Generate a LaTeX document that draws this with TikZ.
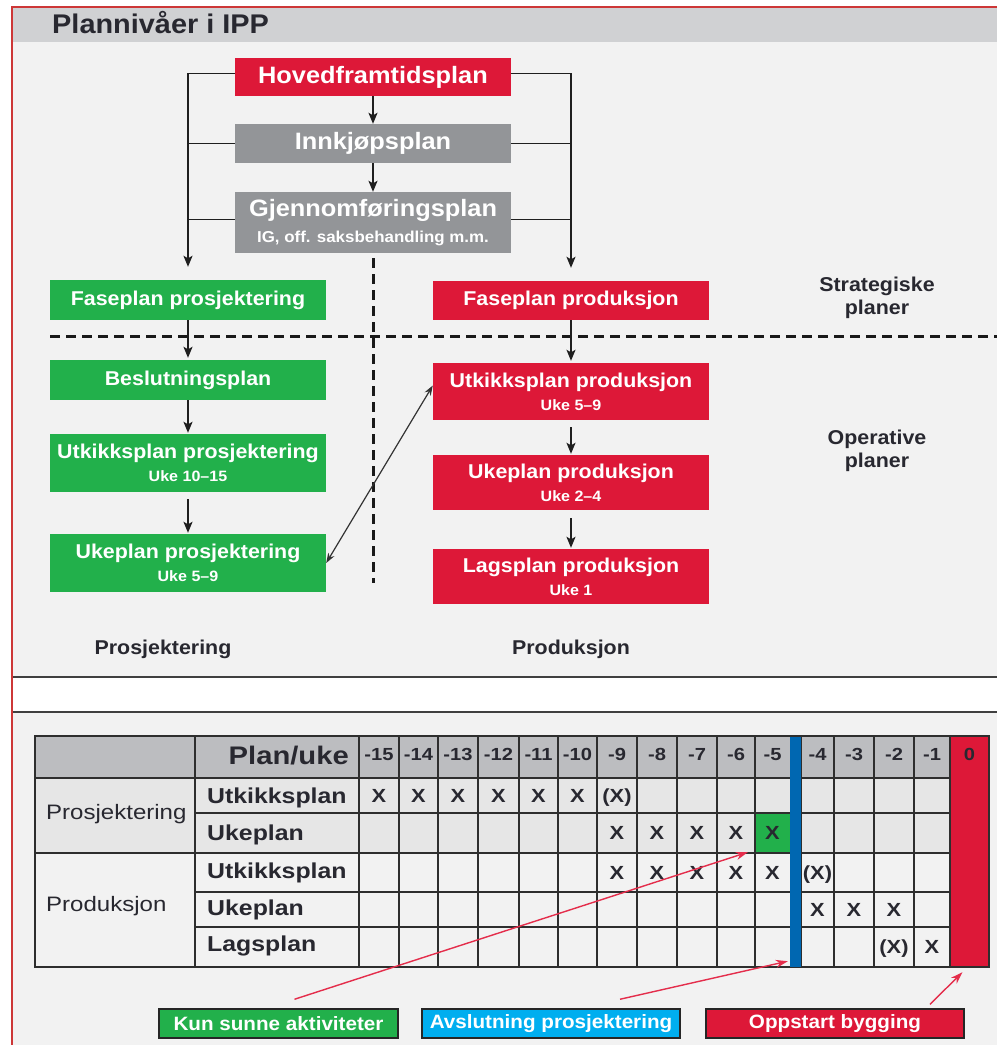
\documentclass[tikz,border=0pt]{standalone}
\usepackage{fontspec}
\setmainfont{Liberation Sans}[FakeStretch=1.07]
\newfontfamily\tabfont{Liberation Sans}[FakeStretch=1.15]
\usetikzlibrary{arrows.meta,calc}

\definecolor{ippred}{RGB}{221,24,56}
\definecolor{ippgreen}{RGB}{34,176,75}
\definecolor{ippgray}{RGB}{147,149,152}
\definecolor{barGray}{RGB}{208,209,211}
\definecolor{paper}{RGB}{242,242,242}
\definecolor{headGray}{RGB}{188,189,192}
\definecolor{rowGray}{RGB}{230,230,230}
\definecolor{ippblue}{RGB}{0,103,177}
\definecolor{ippcyan}{RGB}{0,174,239}
\definecolor{txtdark}{RGB}{40,40,48}
\definecolor{frameRed}{RGB}{205,55,55}
\definecolor{ptred}{RGB}{228,45,75}

\newcommand\ukeline[1]{{\fontsize{15}{17}\selectfont #1}}

\begin{document}
\begin{tikzpicture}[x=1pt,y=-1pt,
  plan/.style={rectangle, inner sep=0pt, minimum width=276pt, text=white, align=center,
    font=\bfseries\fontsize{20}{22}\selectfont},
  bigplan/.style={plan, font=\bfseries\fontsize{23.7}{26}\selectfont},
  flow/.style={draw=black!88, line width=1.6pt, -{Stealth[length=11pt,width=9pt,inset=2.5pt]}},
  bus/.style={draw=black!88, line width=1.6pt},
  divider/.style={draw=black!90, line width=3pt, dash pattern=on 10pt off 6pt},
  link/.style={draw=black!80, line width=1.2pt,
    {Stealth[length=10pt,width=7pt]}-{Stealth[length=10pt,width=7pt]}},
  note/.style={text=txtdark, inner sep=0pt, align=center, font=\bfseries\fontsize{20}{23}\selectfont},
  rule/.style={draw=black!75, line width=1.6pt},
  grid/.style={draw=black!82, line width=1.8pt},
  wk/.style={text=txtdark, inner sep=0pt, font=\tabfont\bfseries\fontsize{17.5}{20}\selectfont},
  mk/.style={wk, font=\tabfont\bfseries\fontsize{19}{21}\selectfont},
  rowlab/.style={text=txtdark, inner sep=0pt, anchor=base west,
    font=\tabfont\bfseries\fontsize{21.6}{24}\selectfont},
  grplab/.style={text=txtdark, inner sep=0pt, anchor=base west,
    font=\tabfont\fontsize{20.9}{24}\selectfont},
  legend/.style={draw=black!85, line width=1.5pt, minimum width=258pt, minimum height=29pt,
    inner sep=0pt, text=white, font=\bfseries\fontsize{19.3}{21}\selectfont},
  pointer/.style={draw=ptred, line width=1.4pt, -{Stealth[length=12pt,width=8pt]}}
]
\useasboundingbox (0,0) rectangle (997,1045);

% page, panels and frame
\fill[white] (0,0) rectangle (997,1045);
\fill[paper] (12,42) rectangle (997,677);
\fill[paper] (12,712) rectangle (997,1045);
\fill[barGray] (12,7) rectangle (997,42);
\draw[rule] (12,677) -- (997,677);
\draw[rule] (12,712) -- (997,712);
\draw[frameRed, line width=1.5pt] (997,7) -- (12,7) -- (12,1045);
\node[anchor=base west, inner sep=0pt, text=txtdark,
  font=\bfseries\fontsize{27}{30}\selectfont] (title) at (52,33) {Plannivåer i IPP};

% plan hierarchy
\node[bigplan, fill=ippred, minimum height=38pt] (hfp) at (373,77) {Hovedframtidsplan};
\node[bigplan, fill=ippgray, minimum height=39pt] (innk) at (373,143.5) {Innkjøpsplan};
\node[bigplan, fill=ippgray, minimum height=61pt] (gjf) at (373,222.5)
  {Gjennomføringsplan\\{\fontsize{15.8}{17}\selectfont IG, off. saksbehandling m.m.}};

\node[plan, fill=ippgreen, minimum height=40pt] (fpp) at (188,300) {Faseplan prosjektering};
\node[plan, fill=ippred, minimum height=39pt] (fpr) at (571,300.5) {Faseplan produksjon};
\node[plan, fill=ippgreen, minimum height=40pt] (bes) at (188,380) {Beslutningsplan};
\node[plan, fill=ippgreen, minimum height=58pt] (ukp) at (188,463)
  {Utkikksplan prosjektering\\[1pt]\ukeline{Uke 10–15}};
\node[plan, fill=ippgreen, minimum height=58pt] (wkp) at (188,563)
  {Ukeplan prosjektering\\[1pt]\ukeline{Uke 5–9}};
\node[plan, fill=ippred, minimum height=57pt] (ukr) at (571,391.5)
  {Utkikksplan produksjon\\[1pt]\ukeline{Uke 5–9}};
\node[plan, fill=ippred, minimum height=55pt] (wkr) at (571,482.5)
  {Ukeplan produksjon\\[1pt]\ukeline{Uke 2–4}};
\node[plan, fill=ippred, minimum height=55pt] (lgr) at (571,576.5)
  {Lagsplan produksjon\\[1pt]\ukeline{Uke 1}};

% dividers between strategic/operative and design/production
\coordinate (divL) at (50,336);
\coordinate (divR) at (997,336);
\coordinate (divB) at (373,583);
\draw[divider] (divL) -- (divR);
\draw[divider] ([yshift=-5pt]gjf.south) -- (divB);

% connectors
\draw[flow] (hfp) -- (innk);
\draw[flow] (innk) -- (gjf);
\draw[flow, shorten >=13pt] ([yshift=3.5pt]hfp.west) -| (fpp.north);
\draw[flow, shorten >=13pt] ([yshift=3.5pt]hfp.east) -| (fpr.north);
\draw[bus] (innk.west) -- (innk.west -| fpp.north);
\draw[bus] (innk.east) -- (innk.east -| fpr.north);
\draw[bus] ([yshift=3pt]gjf.west) -- ([yshift=3pt]gjf.west -| fpp.north);
\draw[bus] ([yshift=3pt]gjf.east) -- ([yshift=3pt]gjf.east -| fpr.north);
\draw[flow, shorten >=2pt] (fpp) -- (bes);
\draw[flow, shorten >=1pt] (bes) -- (ukp);
\draw[flow, shorten <=7pt, shorten >=1pt] (ukp) -- (wkp);
\draw[flow, shorten >=2pt] (fpr) -- (ukr);
\draw[flow, shorten <=7pt, shorten >=1pt] (ukr) -- (wkr);
\draw[flow, shorten <=8pt, shorten >=1pt] (wkr) -- (lgr);
\draw[link] (wkp.east) -- ([yshift=6pt]ukr.west);

% side and column notes
\node[note] (strat) at (877,298) {Strategiske\\planer};
\node[note] (oper) at (877,451) {Operative\\planer};
\node[note] (colP) at (163,649) {Prosjektering};
\node[note] (colR) at (571,649) {Produksjon};

% schedule table: fills
\fill[headGray] (35,736) rectangle (950,778);
\fill[rowGray] (35,778) rectangle (950,853);
\node[fill=ippred, inner sep=0pt, minimum width=39pt, minimum height=231pt] (zero) at (969.5,851.5) {};
\node[fill=ippgreen, inner sep=0pt, minimum width=35pt, minimum height=40pt] (gcell) at (772.5,833) {};

% schedule table: grid
\foreach \y in {778,853} \draw[grid] (35,\y) -- (950,\y);
\foreach \y in {813,892,927} \draw[grid] (195,\y) -- (950,\y);
\foreach \x in {195,359,399,438,478,519,558,597,637,677,717,755,801,834,874,914,950}
  \draw[grid] (\x,736) -- (\x,967);
\draw[grid] (35,736) rectangle (989,967);
\node[fill=ippblue, inner sep=0pt, minimum width=11pt, minimum height=230pt] (blue) at (795.5,852) {};

% schedule table: headings
\node[text=txtdark, inner sep=0pt, anchor=base east,
  font=\tabfont\bfseries\fontsize{25.4}{28}\selectfont] (planuke) at (349,764) {Plan/uke};
\foreach \lab/\xl/\xr [count=\i] in {-15/359/399,-14/399/438,-13/438/478,-12/478/519,
    -11/519/558,-10/558/597,-9/597/637,-8/637/677,-7/677/717,-6/717/755,-5/755/790,
    -4/801/834,-3/834/874,-2/874/914,-1/914/950,0/950/989}
{
  \coordinate (col\i) at ({(\xl+\xr)/2},0);
  \node[wk, anchor=base] (wk\i) at ({(\xl+\xr)/2},760) {\lab};
}

% row baselines
\coordinate (row1) at (0,802);
\coordinate (row2) at (0,839.5);
\coordinate (row3) at (0,879);
\coordinate (row4) at (0,916);
\coordinate (row5) at (0,953.5);

\node[grplab] (gP) at (46,819) {Prosjektering};
\node[grplab] (gR) at (46,911) {Produksjon};
\node[rowlab] (r1) at (207,803) {Utkikksplan};
\node[rowlab] (r2) at (207,840) {Ukeplan};
\node[rowlab] (r3) at (207,878) {Utkikksplan};
\node[rowlab] (r4) at (207,915) {Ukeplan};
\node[rowlab] (r5) at (207,951) {Lagsplan};

% schedule marks
\foreach \c/\r/\m in {1/1/X,2/1/X,3/1/X,4/1/X,5/1/X,6/1/X,7/1/{(X)},
    7/2/X,8/2/X,9/2/X,10/2/X,11/2/X,
    7/3/X,8/3/X,9/3/X,10/3/X,11/3/X,12/3/{(X)},
    12/4/X,13/4/X,14/4/X,
    14/5/{(X)},15/5/X}
  \node[mk, anchor=base] (mark-\c-\r) at (col\c |- row\r) {\m};

% legend
\node[legend, fill=ippgreen, minimum width=239pt] (kun) at (278.5,1023.5) {Kun sunne aktiviteter};
\node[legend, fill=ippcyan] (avs) at (551,1023.5) {Avslutning prosjektering};
\node[legend, fill=ippred] (opp) at (835,1023.5) {Oppstart bygging};

\draw[pointer] ([xshift=16pt,yshift=9pt]kun.north) -- ([xshift=-7pt,yshift=1pt]gcell.south west);
\draw[pointer] ([xshift=69pt,yshift=9pt]avs.north) -- ([xshift=-2pt,yshift=6pt]blue.south west);
\draw[pointer] ([xshift=95pt,yshift=4pt]opp.north) -- ([xshift=-7pt,yshift=-5pt]zero.south);
\end{tikzpicture}
\end{document}
